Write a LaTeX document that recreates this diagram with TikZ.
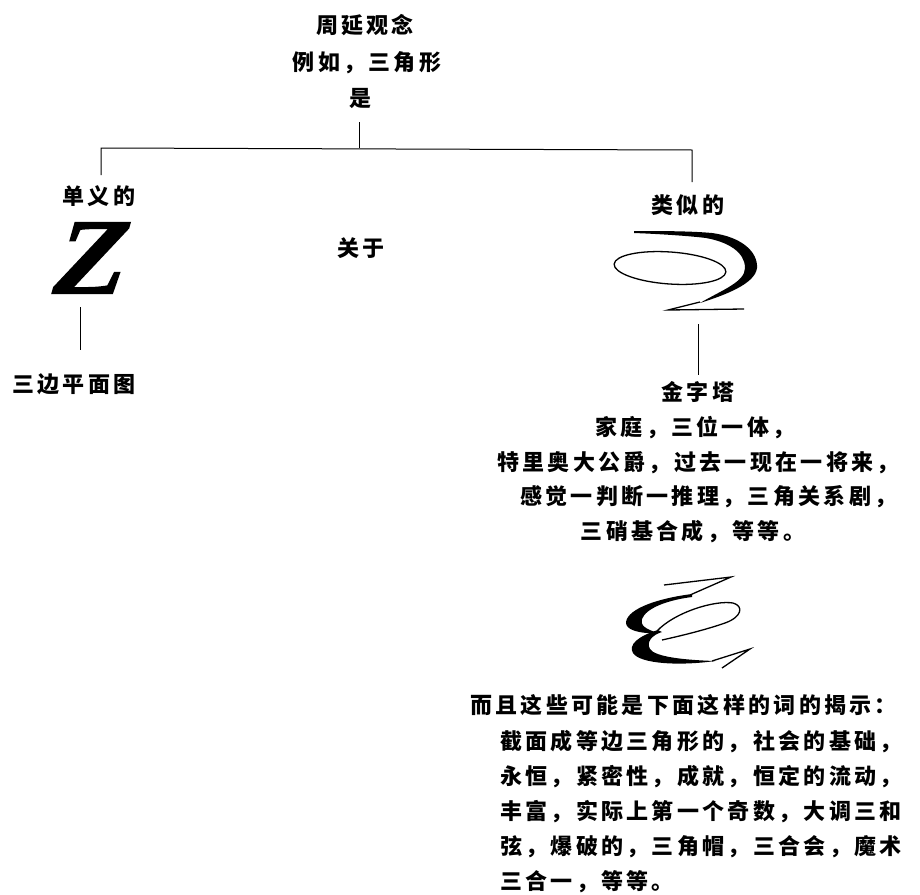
\documentclass[tikz,border=0pt]{standalone}
\usepackage{fontspec}
\newfontfamily\cjk{Noto Sans CJK SC}[LetterSpace=15]
\newfontfamily\zfont{Liberation Serif}[BoldFeatures={FakeBold=1.6}]
\begin{document}
\begin{tikzpicture}[x=1pt,y=-1pt,
  txt/.style={inner sep=0pt, font=\cjk\bfseries\fontsize{22}{22}\selectfont},
  ln/.style={line width=1pt, black},
  thin/.style={line width=1.3pt, black}]
\useasboundingbox (0,0) rectangle (920,894);
\clip (0,0) rectangle (920,894);
% top
\node[txt] (t1) at (365,25) {周延观念};
\node[txt] (t2) at (367,63) {例如，三角形};
\node[txt] (t3) at (360,98) {是};
\coordinate (c0) at (359,122);
\coordinate (jc) at (359,148);
\coordinate (jl) at (101,148);
\coordinate (jr) at (692,150);
\coordinate (el) at (101,175);
\coordinate (er) at (692,182);
\draw[ln] (c0) -- (jc);
\draw[ln] (el) -- (jl) -- (jr) -- (er);
% left branch
\node[txt] (uni) at (99,196) {单义的};
\begin{scope}[shift={(93,258)}, xslant=0.28]
  \node[transform shape, inner sep=0pt, font=\zfont\bfseries\fontsize{108}{108}\selectfont] (z) at (0,0) {Z};
\end{scope}
\coordinate (zl1) at (80,307);
\coordinate (zl2) at (80,350);
\draw[ln] (zl1) -- (zl2);
\node[txt, anchor=west] (tri) at (12,384) {三边平面图};
% middle
\node[txt] (about) at (361,248) {关于};
% right branch
\node[txt] (ana) at (688,205) {类似的};
% squiggle 1
\draw[thin] (670,268) ellipse [x radius=56, y radius=16, rotate=-4];
\fill (634,231) .. controls (660,231) and (690,231) .. (712,233)
  .. controls (742,237) and (758,252) .. (757,268)
  .. controls (755,284) and (725,295) .. (700,303)
  .. controls (722,290) and (745,282) .. (745,268)
  .. controls (745,252) and (728,242) .. (706,238)
  .. controls (690,236) and (660,234) .. (634,233) -- cycle;
\draw[thin] (700,302) -- (668,310) -- (744,309);
\coordinate (rl1) at (698,324);
\coordinate (rl2) at (698,375);
\draw[ln] (rl1) -- (rl2);
\node[txt] (pyr) at (698,392) {金字塔};
\node[txt] (r2) at (695,428) {家庭，三位一体，};
\node[txt, anchor=west] (r3) at (497,463) {特里奥大公爵，过去一现在一将来，};
\node[txt, anchor=west] (r4) at (520,497) {感觉一判断一推理，三角关系剧，};
\node[txt] (r5) at (693,532) {三硝基合成，等等。};
% squiggle 2
\draw[thin] (664,585) -- (731,577) -- (690,595);
\fill (692,594) .. controls (660,598) and (628,608) .. (626,622)
  .. controls (625,630) and (640,634) .. (658,633)
  .. controls (645,629) and (640,625) .. (642,619)
  .. controls (646,608) and (668,600) .. (692,597) -- cycle;
\draw[thin] (657,631) .. controls (675,612) and (715,600) .. (733,603)
  .. controls (744,606) and (742,617) .. (725,623)
  .. controls (705,630) and (680,636) .. (662,640);
\fill (658,630) .. controls (638,636) and (628,645) .. (633,653)
  .. controls (640,664) and (680,666) .. (715,661)
  .. controls (685,660) and (655,657) .. (650,649)
  .. controls (646,642) and (652,635) .. (662,632) -- cycle;
\draw[thin] (712,661) -- (750,649) -- (722,668);
% lower block
\node[txt, anchor=west] (b1) at (470,705) {而且这些可能是下面这样的词的揭示：};
\node[txt, anchor=west] (b2) at (500,742) {截面成等边三角形的，社会的基础，};
\node[txt, anchor=west] (b3) at (500,777) {永恒，紧密性，成就，恒定的流动，};
\node[txt, anchor=west] (b4) at (500,812) {丰富，实际上第一个奇数，大调三和};
\node[txt, anchor=west] (b5) at (500,847) {弦，爆破的，三角帽，三合会，魔术};
\node[txt, anchor=west] (b6) at (500,882) {三合一，等等。};
\end{tikzpicture}
\end{document}
